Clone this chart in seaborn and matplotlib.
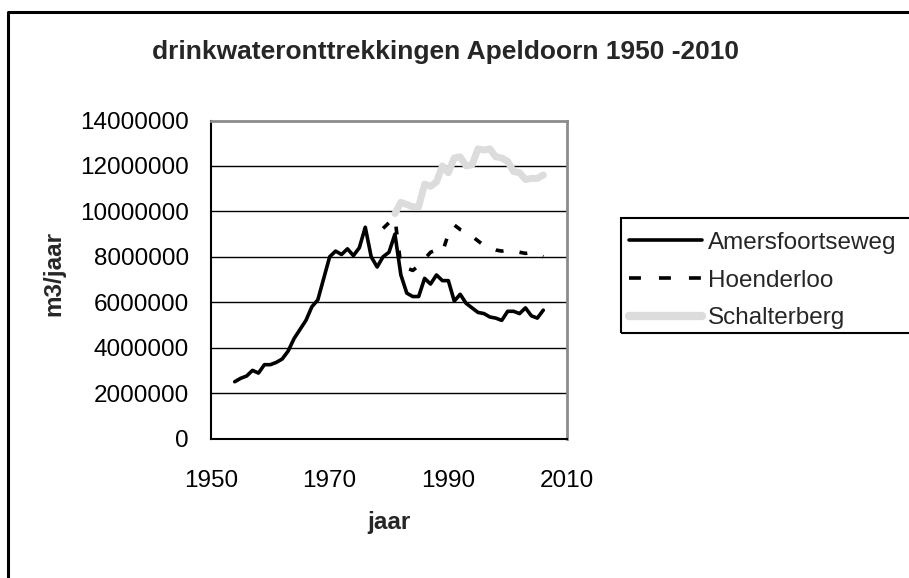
import pandas as pd
import matplotlib
matplotlib.use("Agg")
import matplotlib.pyplot as plt
from matplotlib.patches import Rectangle
from matplotlib.lines import Line2D
import seaborn as sns

# yearly abstraction per pumping station (m3/jaar)
years_amersfoortseweg = list(range(1954, 2007))
amersfoortseweg = [
    2500000, 2650000, 2750000, 3000000, 2880000, 3250000, 3250000, 3350000,
    3500000, 3850000, 4400000, 4800000, 5200000, 5800000, 6100000, 7050000,
    8000000, 8250000, 8100000, 8350000, 8050000, 8400000, 9300000, 8000000,
    7550000, 8000000, 8200000, 9000000, 7200000, 6400000, 6250000, 6250000,
    7050000, 6800000, 7200000, 6950000, 6950000, 6050000, 6350000, 5950000,
    5750000, 5550000, 5500000, 5350000, 5300000, 5200000, 5600000, 5600000,
    5500000, 5750000, 5400000, 5300000, 5650000,
]

years_hoenderloo = list(range(1979, 2007))
hoenderloo = [
    9250000, 9500000, 9700000, 7600000, 7500000, 7400000, 7600000, 7900000,
    8200000, 8300000, 8200000, 9000000, 9400000, 9200000, 9100000, 8900000,
    8700000, 8500000, 8400000, 8300000, 8250000, 8300000, 8250000, 8200000,
    8150000, 8200000, 8100000, 8000000,
]

years_schalterberg = list(range(1981, 2007))
schalterberg = [
    9900000, 10400000, 10300000, 10200000, 10200000, 11200000, 11100000,
    11300000, 12000000, 11700000, 12350000, 12400000, 12000000, 12050000,
    12750000, 12700000, 12750000, 12400000, 12350000, 12200000, 11750000,
    11700000, 11400000, 11450000, 11450000, 11600000,
]

x_ticks = [1950, 1970, 1990, 2010]
y_ticks = [0, 2000000, 4000000, 6000000, 8000000, 10000000, 12000000, 14000000]

sns.set_style("white")
plt.rcParams['font.family'] = ['Liberation Sans', 'DejaVu Sans']

W, H = 909, 578
fig = plt.figure(figsize=(W / 100, H / 100), dpi=100)
ax = fig.add_axes([211 / W, 1 - 438.5 / H, 356 / W, 318 / H])

# grid first so the lines sit on top
for yv in y_ticks[1:-1]:
    ax.axhline(yv, color="black", lw=1.0, zorder=1)

sns.lineplot(x=years_schalterberg, y=schalterberg, ax=ax, color="#dcdcdc",
             lw=5.0, label="Schalterberg", zorder=2)
sns.lineplot(x=years_hoenderloo, y=hoenderloo, ax=ax, color="black",
             lw=2.6, linestyle=(0, (2.2, 4.5)), label="Hoenderloo", zorder=3)
sns.lineplot(x=years_amersfoortseweg, y=amersfoortseweg, ax=ax, color="black",
             lw=2.6, label="Amersfoortseweg", zorder=4)

ax.set_xlim(1950, 2010)
ax.set_ylim(0, 14000000)
ax.set_xticks(x_ticks)
ax.set_yticks(y_ticks)
ax.set_xticklabels([str(v) for v in x_ticks])
ax.set_yticklabels([str(v) for v in y_ticks])
ax.tick_params(axis="both", labelsize=17.5, colors="black", direction="out",
               length=5, width=1.2)
ax.tick_params(axis="y", pad=11)
ax.tick_params(axis="x", pad=18)
ax.grid(False)

for side in ["left", "bottom"]:
    ax.spines[side].set_color("black")
    ax.spines[side].set_linewidth(1.5)
for side in ["top", "right"]:
    ax.spines[side].set_color("#8c8c8c")
    ax.spines[side].set_linewidth(2.0)

ax.set_xlabel("jaar", fontsize=17.5, fontweight="bold", labelpad=13)
ax.set_ylabel("m3/jaar", fontsize=17.5, fontweight="bold")
ax.yaxis.set_label_coords(-0.408, 0.52)

fig.text(446 / W, 1 - 52 / H, "drinkwateronttrekkingen Apeldoorn 1950 -2010",
         ha="center", va="center", fontsize=19, fontweight="bold")

# legend (its box runs off the right edge of the picture)
ax.get_legend().remove()
handles = [
    Line2D([], [], color="black", lw=2.6),
    Line2D([], [], color="black", lw=2.6, linestyle=(0, (3.3, 5))),
    Line2D([], [], color="#dcdcdc", lw=6.0),
]
fig.legend(handles, ["Amersfoortseweg", "Hoenderloo", "Schalterberg"],
           loc="upper left", bbox_to_anchor=(619 / W, 1 - 222 / H),
           frameon=False, fontsize=17.5, handlelength=3.0,
           handletextpad=0.25, labelspacing=0.65, borderaxespad=0)
fig.add_artist(Rectangle((621 / W, 1 - 333 / H), 0.5, 115 / H,
                         transform=fig.transFigure, fill=False,
                         ec="black", lw=1.5))

# outer chart border (left and top only visible)
fig.add_artist(Line2D([8 / W, 8 / W, 1.02], [-0.02, 1 - 12 / H, 1 - 12 / H],
                      transform=fig.transFigure, color="black", lw=2.2))

fig.savefig("out.png", dpi=100)
